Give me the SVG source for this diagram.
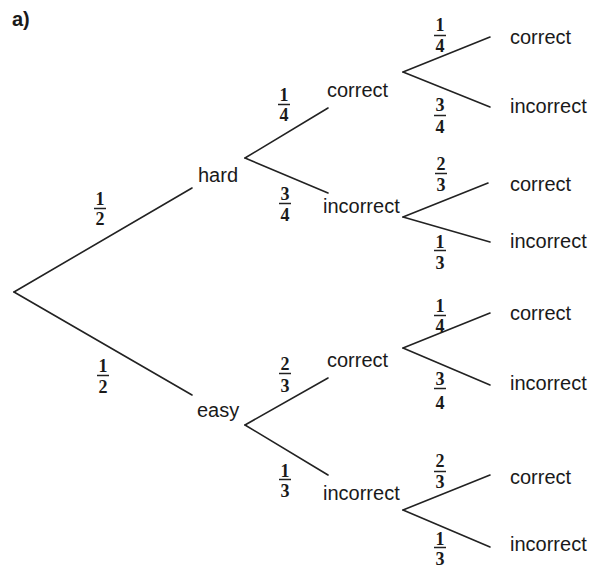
<svg xmlns="http://www.w3.org/2000/svg" width="594" height="574" viewBox="0 0 594 574">
<style>
.lbl{font-family:"Liberation Sans",Arial,sans-serif;font-size:20px;fill:#1a1a1a}
.title{font-family:"Liberation Sans",Arial,sans-serif;font-size:20px;font-weight:bold;fill:#1a1a1a}
.num{font-family:"Liberation Serif","Times New Roman",serif;font-size:18px;font-weight:bold;fill:#1a1a1a;text-anchor:middle}
.edge{stroke:#222;stroke-width:1.6;fill:none;stroke-linecap:round}
.bar{stroke:#222;stroke-width:1.5}
</style>
<rect width="594" height="574" fill="#fff"/>
<text class="title" x="12" y="26">a)</text>
<g id="connectors">
<line class="edge" x1="14" y1="292" x2="192" y2="188"/>
<line class="edge" x1="14" y1="292" x2="192" y2="395"/>
<line class="edge" x1="245" y1="158" x2="328" y2="108"/>
<line class="edge" x1="245" y1="158" x2="328" y2="193"/>
<line class="edge" x1="245" y1="425" x2="328" y2="378"/>
<line class="edge" x1="245" y1="425" x2="328" y2="475"/>
<line class="edge" x1="403" y1="72" x2="490" y2="37"/>
<line class="edge" x1="403" y1="72" x2="490" y2="107"/>
<line class="edge" x1="403" y1="217" x2="488" y2="183"/>
<line class="edge" x1="403" y1="217" x2="490" y2="242"/>
<line class="edge" x1="403" y1="348" x2="490" y2="313"/>
<line class="edge" x1="403" y1="348" x2="490" y2="385"/>
<line class="edge" x1="403" y1="510" x2="490" y2="475"/>
<line class="edge" x1="403" y1="510" x2="490" y2="547"/>
</g>
<g id="probabilities">
<g id="p-hard"><text class="num" x="100" y="205">1</text><line class="bar" x1="94" y1="208.5" x2="106" y2="208.5"/><text class="num" x="100" y="225">2</text></g>
<g id="p-easy"><text class="num" x="103" y="372">1</text><line class="bar" x1="97" y1="375.5" x2="109" y2="375.5"/><text class="num" x="103" y="393">2</text></g>
<g id="p-h-c"><text class="num" x="284" y="101">1</text><line class="bar" x1="278" y1="104.5" x2="290" y2="104.5"/><text class="num" x="284" y="121">4</text></g>
<g id="p-h-i"><text class="num" x="285" y="200">3</text><line class="bar" x1="279" y1="203.5" x2="291" y2="203.5"/><text class="num" x="285" y="221">4</text></g>
<g id="p-e-c"><text class="num" x="285" y="370">2</text><line class="bar" x1="279" y1="373.5" x2="291" y2="373.5"/><text class="num" x="285" y="392">3</text></g>
<g id="p-e-i"><text class="num" x="285" y="477">1</text><line class="bar" x1="279" y1="479.5" x2="291" y2="479.5"/><text class="num" x="285" y="497">3</text></g>
<g id="p-hc-c"><text class="num" x="440" y="31">1</text><line class="bar" x1="434" y1="35.5" x2="446" y2="35.5"/><text class="num" x="440" y="52">4</text></g>
<g id="p-hc-i"><text class="num" x="440" y="111">3</text><line class="bar" x1="434" y1="115.5" x2="446" y2="115.5"/><text class="num" x="440" y="133">4</text></g>
<g id="p-hi-c"><text class="num" x="441" y="170">2</text><line class="bar" x1="435" y1="173.5" x2="447" y2="173.5"/><text class="num" x="441" y="191">3</text></g>
<g id="p-hi-i"><text class="num" x="440" y="248">1</text><line class="bar" x1="434" y1="250.5" x2="446" y2="250.5"/><text class="num" x="440" y="269">3</text></g>
<g id="p-ec-c"><text class="num" x="440" y="312">1</text><line class="bar" x1="434" y1="315.5" x2="446" y2="315.5"/><text class="num" x="440" y="332">4</text></g>
<g id="p-ec-i"><text class="num" x="440" y="385">3</text><line class="bar" x1="434" y1="388.5" x2="446" y2="388.5"/><text class="num" x="440" y="409">4</text></g>
<g id="p-ei-c"><text class="num" x="440" y="467">2</text><line class="bar" x1="434" y1="471.5" x2="446" y2="471.5"/><text class="num" x="440" y="488">3</text></g>
<g id="p-ei-i"><text class="num" x="440" y="545">1</text><line class="bar" x1="434" y1="547.5" x2="446" y2="547.5"/><text class="num" x="440" y="565">3</text></g>
</g>
<g id="node-hard"><text class="lbl" x="198" y="182">hard</text></g>
<g id="node-easy"><text class="lbl" x="197" y="417">easy</text></g>
<g id="node-hard-correct"><text class="lbl" x="327" y="97">correct</text></g>
<g id="node-hard-incorrect"><text class="lbl" x="323" y="213">incorrect</text></g>
<g id="node-easy-correct"><text class="lbl" x="327" y="367">correct</text></g>
<g id="node-easy-incorrect"><text class="lbl" x="323" y="500">incorrect</text></g>
<g id="node-hc-correct"><text class="lbl" x="510" y="44">correct</text></g>
<g id="node-hc-incorrect"><text class="lbl" x="510" y="113">incorrect</text></g>
<g id="node-hi-correct"><text class="lbl" x="510" y="191">correct</text></g>
<g id="node-hi-incorrect"><text class="lbl" x="510" y="248">incorrect</text></g>
<g id="node-ec-correct"><text class="lbl" x="510" y="320">correct</text></g>
<g id="node-ec-incorrect"><text class="lbl" x="510" y="390">incorrect</text></g>
<g id="node-ei-correct"><text class="lbl" x="510" y="484">correct</text></g>
<g id="node-ei-incorrect"><text class="lbl" x="510" y="551">incorrect</text></g>
</svg>
